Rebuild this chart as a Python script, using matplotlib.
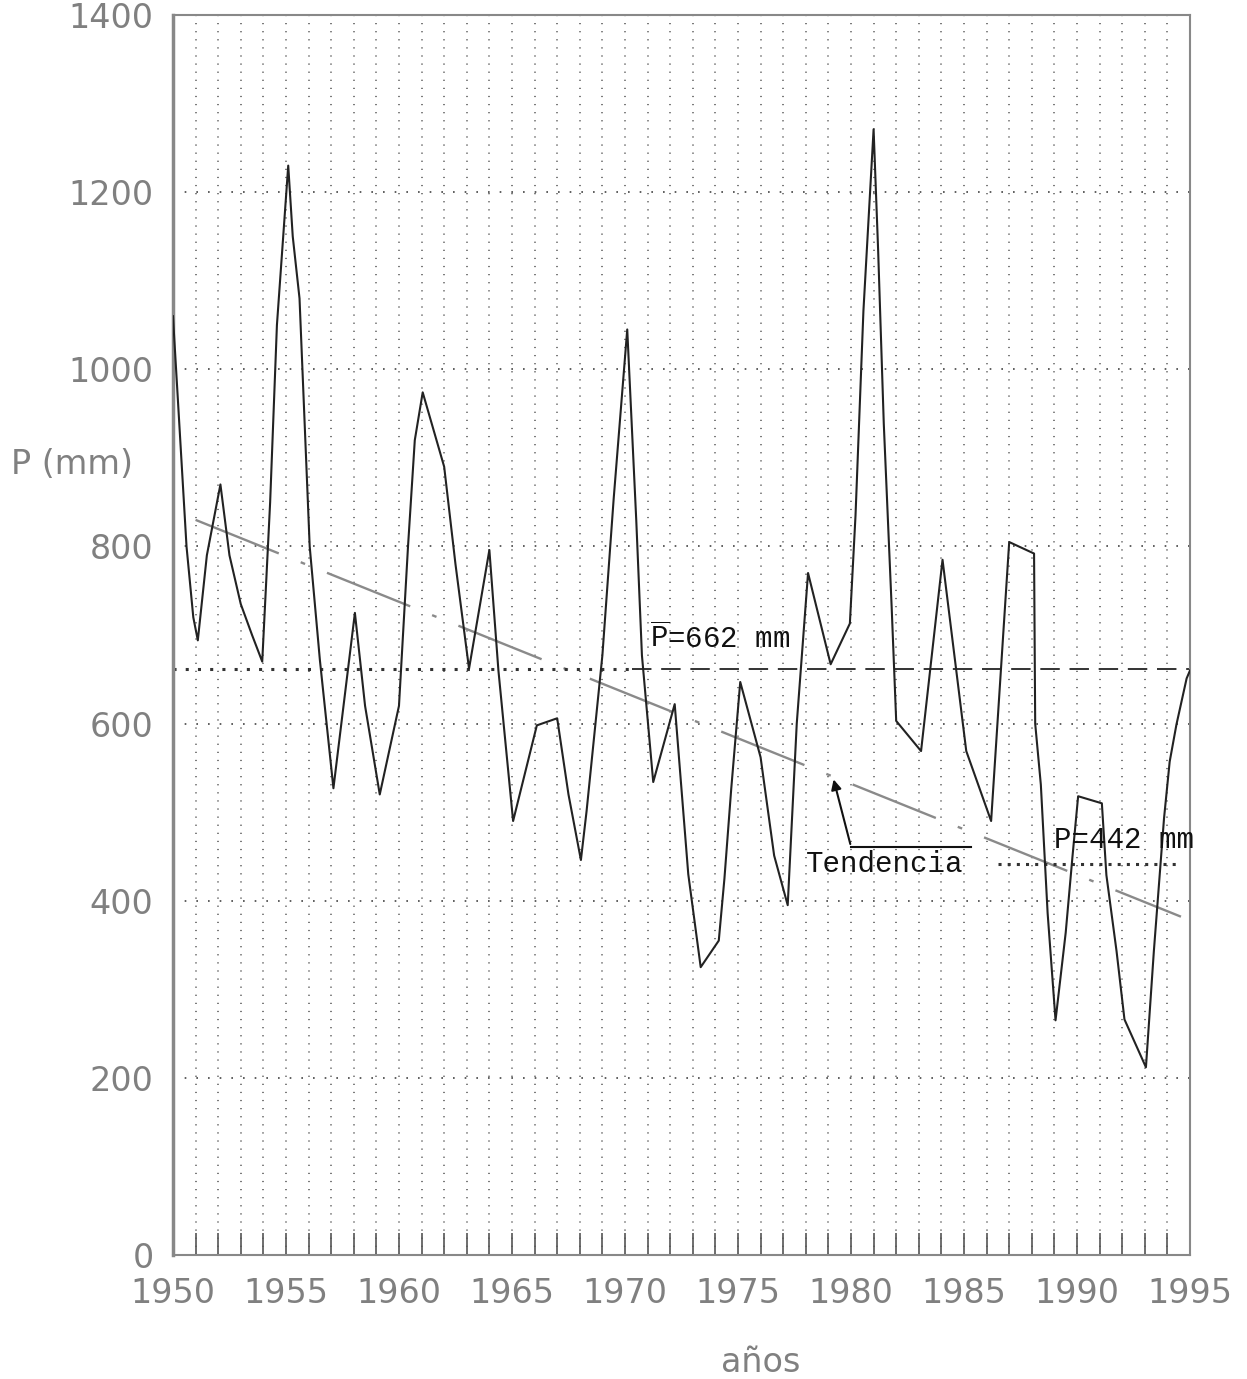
import matplotlib
matplotlib.use("Agg")
from matplotlib import pyplot as plt
import numpy as np

# series (turning points of the plotted curve)
years = [1950.0, 1950.3, 1950.6, 1950.9, 1951.1, 1951.5, 1952.1, 1952.5, 1953.0, 1953.5,
         1953.95, 1954.3, 1954.6, 1955.1, 1955.3, 1955.6, 1956.05, 1956.5, 1957.1, 1958.05,
         1958.5, 1959.15, 1960.0, 1960.4, 1960.7, 1961.05, 1962.0, 1962.5, 1963.1, 1964.0,
         1964.4, 1965.05, 1966.1, 1967.0, 1967.5, 1968.05, 1968.3, 1969.0, 1969.5, 1970.1,
         1970.5, 1970.75, 1971.25, 1972.2, 1972.8, 1973.35, 1974.15, 1974.4, 1974.7, 1975.1,
         1976.0, 1976.6, 1977.2, 1977.6, 1978.1, 1979.1, 1979.95, 1980.2, 1980.55, 1981.0,
         1981.2, 1981.45, 1981.8, 1982.0, 1983.1, 1984.05, 1985.1, 1986.2, 1987.0, 1988.1,
         1988.15, 1988.4, 1988.7, 1989.05, 1989.5, 1989.8, 1990.05, 1991.1, 1991.3, 1991.75,
         1992.1, 1993.05, 1993.4, 1993.85, 1994.1, 1994.4, 1994.85, 1995.0]
precip = [1060, 930, 800, 720, 694, 790, 870, 790, 735, 700,
          670, 850, 1050, 1230, 1150, 1080, 800, 672, 527, 725,
          620, 520, 620, 800, 920, 974, 890, 780, 662, 796,
          660, 490, 598, 606, 520, 446, 501, 677, 854, 1045,
          829, 677, 534, 622, 430, 325, 355, 425, 526, 647,
          562, 451, 395, 600, 770, 667, 713, 835, 1066, 1271,
          1135, 939, 731, 603, 569, 785, 569, 490, 805, 792,
          600, 531, 386, 265, 364, 450, 518, 510, 429, 343,
          266, 212, 343, 493, 557, 599, 651, 660]

trend_years = [1951.0, 1994.6]
trend_vals = [830, 382]

mean_all = 662
mean_recent = 442
recent_span = [1986.5, 1994.6]

tick_years = list(range(1950, 1996, 5))
y_ticks = list(range(0, 1401, 200))

mono = "Liberation Mono"
plt.rcParams["mathtext.fontset"] = "custom"
plt.rcParams["mathtext.rm"] = mono

fig = plt.figure(figsize=(12.47, 13.79), dpi=100)
ax = fig.add_axes([0.1387, 0.0899, 0.8156, 0.8992])

# grid
for yr in range(1951, 1995):
    ax.axvline(yr, color="#555555", lw=1.1, ls=(0, (0.8, 4.5)), zorder=1)
for v in y_ticks[1:-1]:
    ax.axhline(v, color="#444444", lw=1.2, ls=(0, (1, 6)), zorder=1)

# series
ax.plot(years, precip, color="#222222", lw=1.5, zorder=3)

# trend
ax.plot(trend_years, trend_vals, color="#8a8a8a", lw=1.7,
        ls=(0, (38, 10, 2, 10)), zorder=2)

# means
ax.plot([1950, 1970.3], [mean_all, mean_all], color="#333333", lw=2.2,
        ls=(0, (1, 3)), zorder=2)
ax.plot([1970.3, 1995], [mean_all, mean_all], color="#333333", lw=1.4,
        ls=(0, (10, 5)), zorder=2)
ax.plot(recent_span, [mean_recent, mean_recent], color="#333333", lw=2.2,
        ls=(0, (1, 2)), zorder=2)

ax.text(1971.1, 679, r"$\overline{\mathrm{P}}$=662 mm", fontsize=21,
        family=mono, color="#111111", va="bottom")
ax.text(1989.0, 453, "P=442 mm", fontsize=21, family=mono,
        color="#111111", va="bottom")

ax.annotate("", xy=(1979.2, 540), xytext=(1980.0, 461),
            arrowprops=dict(arrowstyle="-|>", color="#111111", lw=1.5,
                            mutation_scale=15))
ax.plot([1980.0, 1985.3], [461, 461], color="#111111", lw=1.5)
ax.text(1978.0, 457, "Tendencia", fontsize=21, family=mono,
        color="#111111", va="top")

ax.set_xlim(1950, 1995)
ax.set_ylim(0, 1400)
ax.set_xticks(range(1950, 1996), minor=True)
ax.set_xticks(tick_years)
ax.set_xticklabels([str(t) for t in tick_years])
ax.set_yticks(y_ticks)
ax.tick_params(axis="x", which="both", direction="in", length=16, width=1.2,
               color="#555555", labelsize=24, labelcolor="#808080", pad=16)
ax.tick_params(axis="y", length=0, labelsize=24, labelcolor="#808080", pad=14)
for sp in ax.spines.values():
    sp.set_color("#888888")
    sp.set_linewidth(1.5)
ax.spines["left"].set_linewidth(2.5)

fig.text(0.058, 0.663, "P (mm)", fontsize=24, color="#808080",
         ha="center", va="center")
fig.text(0.61, 0.012, "años", fontsize=24, color="#808080",
         ha="center", va="center")

plt.savefig("out.png", dpi=100)
